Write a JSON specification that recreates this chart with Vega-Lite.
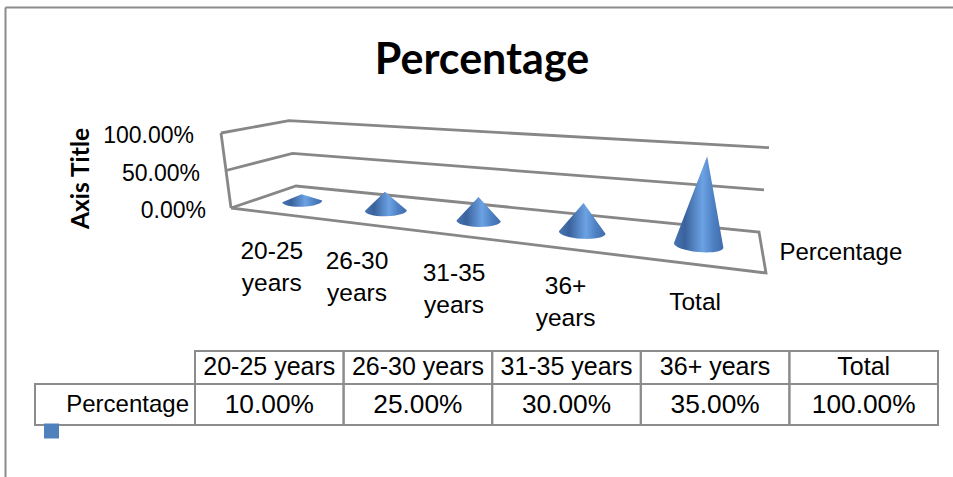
{
  "$schema": "https://vega.github.io/schema/vega-lite/v6.json",
  "width": 948,
  "height": 470,
  "autosize": "none",
  "padding": {"left": 5, "top": 7, "right": 0, "bottom": 0},
  "background": "white",
  "title": {"text": "Percentage", "font": "Lato", "fontSize": 43, "fontWeight": "bold", "color": "#000000", "anchor": "middle", "dx": 3, "dy": 114, "baseline": "alphabetic"},
  "config": {
    "view": {"stroke": null},
    "axis": {"labels": false, "ticks": false, "grid": false, "domainColor": "#8c8c8c", "domainWidth": 2},
    "text": {"font": "Liberation Sans", "fontSize": 24, "color": "#000000"}
  },
  "datasets": {
    "ages": [
      {"age": "20-25 years", "percentage": 0.10},
      {"age": "26-30 years", "percentage": 0.25},
      {"age": "31-35 years", "percentage": 0.30},
      {"age": "36+ years", "percentage": 0.35},
      {"age": "Total", "percentage": 1.00}
    ],
    "levels": [{"level": 0}, {"level": 0.5}, {"level": 1}],
    "walls": [
      {"edge": "top", "seq": 0, "u": 0, "d": 0, "v": 1},
      {"edge": "top", "seq": 1, "u": 0, "d": 1, "v": 1},
      {"edge": "top", "seq": 2, "u": 1, "d": 1, "v": 1},
      {"edge": "middle", "seq": 0, "u": 0, "d": 0, "v": 0.5},
      {"edge": "middle", "seq": 1, "u": 0, "d": 1, "v": 0.5},
      {"edge": "middle", "seq": 2, "u": 1, "d": 1, "v": 0.5},
      {"edge": "floor", "seq": 0, "u": 0, "d": 0, "v": 0},
      {"edge": "floor", "seq": 1, "u": 0, "d": 1, "v": 0},
      {"edge": "floor", "seq": 2, "u": 1, "d": 1, "v": 0},
      {"edge": "floor", "seq": 3, "u": 1, "d": 0, "v": 0},
      {"edge": "floor", "seq": 4, "u": 0, "d": 0, "v": 0},
      {"edge": "corner", "seq": 0, "u": 0, "d": 0, "v": 0},
      {"edge": "corner", "seq": 1, "u": 0, "d": 0, "v": 1}
    ],
    "series": [{"series": "Percentage"}]
  },
  "resolve": {"scale": {"x": "independent", "y": "independent"}, "axis": {"x": "independent", "y": "independent"}},
  "layer": [
    {
      "encoding": {
        "x": {"field": "px", "type": "quantitative", "scale": {"domain": [5, 953], "range": [0, 948], "nice": false, "zero": false}, "axis": {"orient": "top", "title": null}},
        "y": {"field": "py", "type": "quantitative", "scale": {"domain": [7, 477], "range": [0, 470], "nice": false, "zero": false}, "axis": {"orient": "left", "title": "Axis Title", "titleFont": "Lato", "titleFontSize": 24.5, "titleFontWeight": "bold", "titleColor": "#000000", "titleX": 76, "titleY": 171, "titleAngle": -90, "titleAlign": "center", "titleBaseline": "middle"}}
      },
      "layer": [
        {
          "data": {"name": "walls"},
          "transform": [
            {"calculate": "datum.u/(datum.u+(1-datum.u)*1.32)", "as": "U"},
            {"calculate": "(1-datum.d)*(231+535*datum.U)+datum.d*(296+463*datum.U)+datum.v*((1-datum.d)*(-10+22*datum.U)+datum.d*(-7+17*datum.U))", "as": "px"},
            {"calculate": "(1-datum.d)*(208+65*datum.U)+datum.d*(186+46*datum.U)-datum.v*((1-datum.d)*(75+25*datum.U)+datum.d*(65.3+19*datum.U))", "as": "py"}
          ],
          "mark": {"type": "line", "stroke": "#878787", "strokeWidth": 2.8, "strokeJoin": "miter"},
          "encoding": {
            "detail": {"field": "edge"},
            "order": {"field": "seq", "type": "quantitative"}
          }
        },
        {
          "data": {"name": "ages"},
          "transform": [
            {"calculate": "indexof(['20-25 years','26-30 years','31-35 years','36+ years','Total'],datum.age)", "as": "i"},
            {"calculate": "(datum.i+0.5)/5", "as": "u"},
            {"calculate": "datum.u/(datum.u+(1-datum.u)*1.32)", "as": "U"},
            {"calculate": "263.5+499*datum.U", "as": "px"},
            {"calculate": "197+55.5*datum.U", "as": "py"},
            {"calculate": "datum.percentage*(70+22*datum.U)", "as": "h"},
            {"calculate": "datum.percentage*(-8.5+19.5*datum.U)", "as": "lean"},
            {"calculate": "19.5+6*datum.U", "as": "rx"},
            {"calculate": "-0.06+0.18*datum.U", "as": "slope"},
            {"calculate": "'M'+(-datum.rx)+','+(-datum.slope*datum.rx)+'L'+datum.lean+','+(-datum.h)+'L'+datum.rx+','+(datum.slope*datum.rx)+'A'+datum.rx+','+(0.27*datum.rx)+' '+(datum.slope*57.3)+' 0 1 '+(-datum.rx)+','+(-datum.slope*datum.rx)+'Z'", "as": "cone"}
          ],
          "mark": {
            "type": "point",
            "filled": true,
            "size": 4,
            "opacity": 1,
            "fill": {
              "gradient": "linear", "x1": 0, "x2": 1, "y1": 0, "y2": 0,
              "stops": [
                {"offset": 0, "color": "#4676b4"},
                {"offset": 0.22, "color": "#3a629c"},
                {"offset": 0.58, "color": "#6ca2e4"},
                {"offset": 0.8, "color": "#4d80c2"},
                {"offset": 1, "color": "#3f6cab"}
              ]
            }
          },
          "encoding": {
            "shape": {"field": "cone", "type": "nominal", "scale": null, "legend": null}
          }
        },
        {
          "data": {"name": "ages"},
          "transform": [
            {"calculate": "indexof(['20-25 years','26-30 years','31-35 years','36+ years','Total'],datum.age)", "as": "i"},
            {"calculate": "(datum.i+0.5)/5", "as": "u"},
            {"calculate": "datum.u/(datum.u+(1-datum.u)*1.42)", "as": "U"},
            {"calculate": "231+535*datum.U", "as": "px"},
            {"calculate": "208+65*datum.U", "as": "py"}
          ],
          "mark": {"type": "text", "fontSize": 24.5, "baseline": "top", "align": "center", "lineBreak": " ", "lineHeight": 32, "dx": 2, "dy": 27},
          "encoding": {
            "text": {"field": "age"}
          }
        },
        {
          "data": {"name": "levels"},
          "transform": [
            {"calculate": "231-12*datum.level", "as": "px"},
            {"calculate": "208-75*datum.level", "as": "py"}
          ],
          "mark": {"type": "text", "fontSize": 23, "align": "right", "baseline": "middle", "dx": -25, "dy": 3},
          "encoding": {
            "text": {"field": "level", "type": "quantitative", "format": ".2%"}
          }
        },
        {
          "data": {"name": "series"},
          "transform": [
            {"calculate": "762.5", "as": "px"},
            {"calculate": "252.5", "as": "py"}
          ],
          "mark": {"type": "text", "align": "left", "baseline": "middle", "dx": 17},
          "encoding": {
            "text": {"field": "series"}
          }
        }
      ]
    },
    {
      "data": {"name": "ages"},
      "encoding": {
        "x": {"field": "age", "type": "nominal", "sort": null, "axis": null, "scale": {"type": "band", "range": [190, 933], "paddingInner": 0, "paddingOuter": 0}},
        "y": {"datum": "header", "type": "nominal", "axis": null, "scale": {"type": "band", "domain": ["header"], "range": [344, 377], "paddingInner": 0, "paddingOuter": 0}}
      },
      "layer": [
        {"mark": {"type": "rect", "fill": "white", "fillOpacity": 0, "stroke": "#8c8c8c", "strokeWidth": 2}},
        {"mark": {"type": "text", "fontSize": 25, "baseline": "middle", "align": "center", "dy": -1}, "encoding": {"text": {"field": "age"}}}
      ]
    },
    {
      "data": {"name": "ages"},
      "encoding": {
        "x": {"field": "age", "type": "nominal", "sort": null, "axis": null, "scale": {"type": "band", "range": [190, 933], "paddingInner": 0, "paddingOuter": 0}},
        "y": {"datum": "Percentage", "type": "nominal", "axis": null, "scale": {"type": "band", "domain": ["Percentage"], "range": [377, 418], "paddingInner": 0, "paddingOuter": 0}}
      },
      "layer": [
        {"mark": {"type": "rect", "fill": "white", "fillOpacity": 0, "stroke": "#8c8c8c", "strokeWidth": 2}},
        {"mark": {"type": "text", "fontSize": 26.3, "baseline": "middle", "align": "center"}, "encoding": {"text": {"field": "percentage", "type": "quantitative", "format": ".2%"}}}
      ]
    },
    {
      "data": {"name": "series"},
      "encoding": {
        "y": {"field": "series", "type": "nominal", "axis": null, "scale": {"type": "band", "range": [377, 418], "paddingInner": 0, "paddingOuter": 0}}
      },
      "layer": [
        {
          "mark": {"type": "rect", "fill": "white", "fillOpacity": 0, "stroke": "#8c8c8c", "strokeWidth": 2},
          "encoding": {"x": {"field": "series", "type": "nominal", "axis": null, "scale": {"type": "band", "range": [30, 190], "paddingInner": 0, "paddingOuter": 0}}}
        },
        {
          "mark": {"type": "text", "baseline": "middle", "align": "right", "dx": -6},
          "encoding": {
            "x": {"field": "series", "type": "nominal", "bandPosition": 1, "axis": null},
            "text": {"field": "series"}
          }
        },
        {
          "mark": {"type": "point", "shape": "square", "filled": true, "opacity": 1, "size": 225, "color": "#4f81bd", "xOffset": 16.5, "yOffset": 6},
          "encoding": {
            "x": {"field": "series", "type": "nominal", "bandPosition": 0, "axis": null},
            "y": {"field": "series", "type": "nominal", "bandPosition": 1, "axis": null}
          }
        }
      ]
    }
  ]
}
